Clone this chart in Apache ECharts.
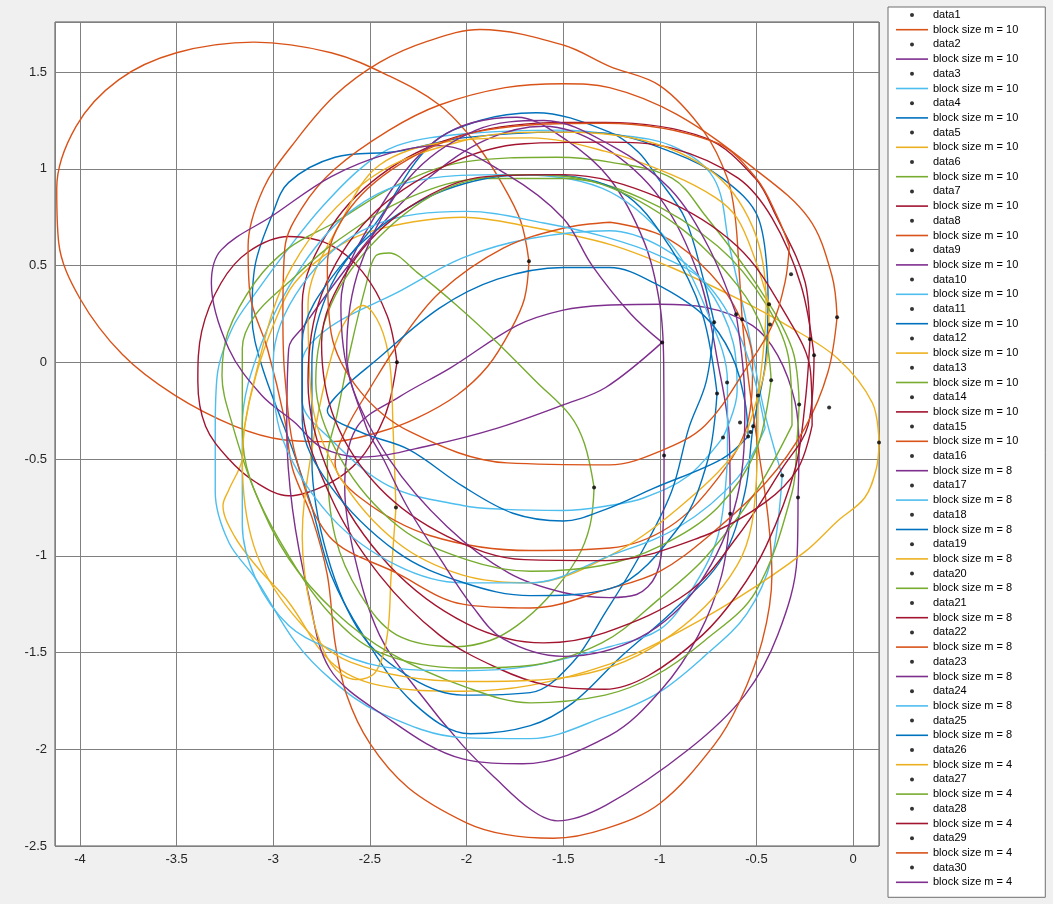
<!DOCTYPE html>
<html>
<head>
<meta charset="utf-8">
<script src="https://cdn.jsdelivr.net/npm/echarts@6/dist/echarts.min.js"></script>
<style>
  html, body { margin: 0; padding: 0; background: #f0f0f0; }
  #chart { width: 1053px; height: 904px; }
</style>
</head>
<body>
<div id="chart"></div>
<script>
// block size used for each of the 30 runs
var blockSize = [10, 10, 10, 10, 10, 10, 10, 10, 10, 10, 10, 10, 10, 10, 10,
                 8, 8, 8, 8, 8, 8, 8, 8, 8, 8, 4, 4, 4, 4, 4];

// the single black point of each run (data1 .. data30)
var dotX = [-1.677, -0.285, -0.367, -0.435, 0.134, -1.34, -2.36, -0.574, -0.636, -0.673,
            -0.719, -2.365, -0.279, -0.223, -0.517, -0.978, -0.652, -0.543, -0.321, -0.124,
            -0.202, -0.083, -0.988, -0.43, -0.704, -0.492, -0.424, -0.585, -0.605, -0.53];
var dotY = [0.522, -0.699, -0.585, 0.30, -0.414, -0.647, 0.0, 0.222, -0.783, -0.388,
            0.207, -0.75, -0.218, 0.119, -0.331, -0.481, -0.104, -0.383, 0.455, -0.233,
            0.036, 0.233, 0.103, 0.196, -0.161, -0.171, -0.093, -0.311, 0.248, -0.36];

// closed curves, one per run (x, y)
var c01 = [[-1.677,0.522],[-1.70,0.33],[-1.77,0.17],[-1.89,-0.02],[-2.05,-0.17],[-2.26,-0.29],[-2.45,-0.36],[-2.70,-0.41],[-2.95,-0.40],[-3.20,-0.33],[-3.51,-0.17],[-3.78,0.04],[-4.00,0.33],[-4.11,0.62],[-4.12,0.90],[-4.02,1.22],[-3.80,1.46],[-3.50,1.60],[-3.10,1.655],[-2.70,1.60],[-2.40,1.48],[-2.14,1.33],[-1.95,1.13],[-1.82,0.93],[-1.72,0.73]];
var c02 = [[-0.285,-0.699],[-0.29,-1.01],[-0.39,-1.41],[-0.56,-1.72],[-0.85,-2.00],[-1.28,-2.29],[-1.53,-2.37],[-1.67,-2.31],[-1.85,-2.15],[-2.02,-1.98],[-2.25,-1.70],[-2.45,-1.41],[-2.58,-1.00],[-2.63,-0.65],[-2.57,-0.34],[-2.35,-0.18],[-2.085,-0.03],[-1.74,0.19],[-1.50,0.27],[-1.28,0.295],[-1.00,0.30],[-0.77,0.285],[-0.52,0.19],[-0.39,0.036],[-0.30,-0.207],[-0.28,-0.45]];
var c03 = [[-0.367,-0.585],[-0.42,-1.01],[-0.55,-1.30],[-0.77,-1.52],[-1.01,-1.71],[-1.28,-1.83],[-1.67,-1.945],[-2.02,-1.94],[-2.45,-1.81],[-2.70,-1.64],[-2.89,-1.44],[-3.09,-1.12],[-3.23,-0.93],[-3.30,-0.67],[-3.30,-0.35],[-3.29,-0.07],[-3.21,0.18],[-3.09,0.36],[-2.92,0.59],[-2.75,0.80],[-2.55,1.00],[-2.36,1.12],[-2.02,1.18],[-1.50,1.20],[-1.26,1.18],[-0.94,1.12],[-0.72,0.95],[-0.64,0.60],[-0.55,0.20],[-0.46,-0.25]];
var c04 = [[-0.44,0.33],[-0.455,-0.015],[-0.517,-0.33],[-0.56,-0.673],[-0.678,-1.014],[-0.937,-1.29],[-1.20,-1.52],[-1.45,-1.76],[-1.67,-1.878],[-1.98,-1.92],[-2.277,-1.759],[-2.535,-1.41],[-2.70,-1.10],[-2.80,-0.75],[-2.90,-0.45],[-3.06,-0.015],[-3.11,0.24],[-3.094,0.50],[-3.006,0.76],[-2.92,0.93],[-2.68,1.06],[-2.36,1.09],[-2.02,1.16],[-1.50,1.19],[-1.283,1.184],[-0.937,1.086],[-0.678,0.952],[-0.49,0.745]];
var c05 = [[0.134,-0.414],[0.12,-0.55],[0.06,-0.70],[-0.08,-0.82],[-0.25,-0.98],[-0.60,-1.22],[-0.99,-1.44],[-1.26,-1.56],[-1.67,-1.67],[-2.02,-1.70],[-2.45,-1.67],[-2.70,-1.55],[-2.92,-1.24],[-3.09,-1.05],[-3.20,-0.90],[-3.26,-0.74],[-3.23,-0.66],[-3.16,-0.50],[-3.15,-0.34],[-3.09,-0.07],[-3.00,0.19],[-2.89,0.41],[-2.68,0.59],[-2.45,0.69],[-2.02,0.75],[-1.67,0.70],[-1.26,0.61],[-0.94,0.49],[-0.60,0.33],[-0.34,0.19],[-0.08,0.02],[0.10,-0.21]];
var c06 = [[-1.34,-0.647],[-1.361,-0.843],[-1.428,-1.014],[-1.583,-1.221],[-1.739,-1.361],[-1.878,-1.438],[-2.05,-1.47],[-2.36,-1.41],[-2.55,-1.20],[-2.68,-0.90],[-2.72,-0.50],[-2.67,-0.27],[-2.60,0.07],[-2.52,0.40],[-2.47,0.55],[-2.40,0.565],[-2.256,0.465],[-2.05,0.294],[-1.842,0.103],[-1.635,-0.104],[-1.464,-0.274],[-1.39,-0.42]];
var c07 = [[-2.36,0.0],[-2.40,-0.21],[-2.45,-0.34],[-2.55,-0.50],[-2.70,-0.62],[-2.92,-0.69],[-3.09,-0.62],[-3.23,-0.50],[-3.35,-0.33],[-3.39,-0.10],[-3.37,0.16],[-3.27,0.41],[-3.13,0.57],[-2.92,0.65],[-2.71,0.61],[-2.54,0.47],[-2.41,0.24]];
var c08 = [[-0.574,0.222],[-0.54,-0.10],[-0.49,-0.45],[-0.44,-0.80],[-0.42,-1.10],[-0.47,-1.44],[-0.59,-1.76],[-0.72,-1.98],[-1.00,-2.28],[-1.28,-2.41],[-1.55,-2.46],[-1.80,-2.44],[-2.00,-2.38],[-2.30,-2.20],[-2.50,-1.97],[-2.62,-1.72],[-2.68,-1.45],[-2.72,-1.10],[-2.80,-0.80],[-2.90,-0.55],[-2.94,-0.30],[-3.03,0.07],[-3.12,0.35],[-3.13,0.60],[-3.05,0.90],[-2.88,1.15],[-2.68,1.38],[-2.45,1.55],[-2.20,1.66],[-1.93,1.72],[-1.50,1.64],[-1.26,1.53],[-1.00,1.43],[-0.77,1.19],[-0.65,0.95],[-0.61,0.75],[-0.59,0.48]];
var c09 = [[-0.636,-0.783],[-0.68,-1.10],[-0.80,-1.41],[-0.99,-1.69],[-1.26,-1.93],[-1.71,-2.075],[-2.02,-2.05],[-2.45,-1.81],[-2.71,-1.58],[-2.82,-1.19],[-2.90,-0.76],[-2.93,-0.35],[-2.92,0.07],[-2.84,0.19],[-2.68,0.41],[-2.45,0.70],[-2.20,0.95],[-1.90,1.15],[-1.60,1.22],[-1.30,1.12],[-1.00,0.85],[-0.80,0.45],[-0.70,0.0],[-0.64,-0.40]];
var c10 = [[-0.673,-0.388],[-0.85,-0.585],[-1.08,-0.70],[-1.26,-0.74],[-1.50,-0.766],[-1.80,-0.76],[-2.02,-0.74],[-2.40,-0.64],[-2.70,-0.40],[-2.85,-0.20],[-2.85,0.00],[-2.71,0.18],[-2.36,0.36],[-2.02,0.54],[-1.67,0.64],[-1.26,0.68],[-1.00,0.60],[-0.77,0.41],[-0.62,0.10],[-0.60,-0.15]];
var c11 = [[-0.719,0.207],[-0.76,-0.10],[-0.85,-0.34],[-0.94,-0.67],[-1.11,-1.01],[-1.28,-1.29],[-1.45,-1.55],[-1.67,-1.707],[-2.02,-1.72],[-2.28,-1.635],[-2.54,-1.41],[-2.72,-1.00],[-2.80,-0.50],[-2.80,0.00],[-2.70,0.40],[-2.45,0.745],[-2.19,1.12],[-1.93,1.25],[-1.64,1.29],[-1.26,1.19],[-1.11,1.086],[-1.01,0.952],[-0.87,0.745],[-0.77,0.414]];
var c12 = [[-2.365,-0.75],[-2.39,-1.10],[-2.41,-1.41],[-2.47,-1.60],[-2.57,-1.64],[-2.70,-1.56],[-2.80,-1.30],[-2.85,-0.90],[-2.80,-0.45],[-2.72,-0.05],[-2.64,0.19],[-2.535,0.294],[-2.447,0.19],[-2.396,-0.015],[-2.38,-0.342]];
var c13 = [[-0.279,-0.218],[-0.29,-0.40],[-0.316,-0.673],[-0.507,-1.19],[-0.77,-1.44],[-1.025,-1.62],[-1.283,-1.72],[-1.67,-1.76],[-2.00,-1.68],[-2.40,-1.50],[-2.68,-1.29],[-2.92,-1.014],[-3.094,-0.67],[-3.21,-0.326],[-3.265,-0.07],[-3.234,0.155],[-3.094,0.414],[-2.92,0.59],[-2.68,0.724],[-2.36,0.916],[-2.018,1.035],[-1.532,1.06],[-1.257,1.035],[-0.937,0.952],[-0.766,0.76],[-0.507,0.414],[-0.316,0.072]];
var c14 = [[-0.223,0.119],[-0.248,-0.207],[-0.30,-0.55],[-0.45,-0.95],[-0.60,-1.20],[-0.78,-1.41],[-1.06,-1.62],[-1.283,-1.69],[-1.58,-1.67],[-1.84,-1.58],[-2.14,-1.41],[-2.45,-1.10],[-2.70,-0.70],[-2.85,-0.20],[-2.85,0.30],[-2.70,0.70],[-2.40,1.00],[-2.00,1.18],[-1.50,1.24],[-1.283,1.24],[-0.766,1.16],[-0.507,0.952],[-0.40,0.76],[-0.248,0.414]];
var c15 = [[-1.257,0.724],[-1.50,0.693],[-1.81,0.59],[-2.14,0.36],[-2.35,0.10],[-2.50,-0.135],[-2.62,-0.34],[-2.68,-0.52],[-2.55,-0.70],[-2.19,-0.895],[-1.67,-0.973],[-1.257,-0.96],[-0.95,-0.85],[-0.70,-0.60],[-0.55,-0.33],[-0.52,0.0],[-0.62,0.30],[-0.80,0.52],[-1.00,0.66]];
var c16 = [[-0.978,-0.481],[-0.985,-0.90],[-1.02,-1.10],[-1.12,-1.20],[-1.26,-1.216],[-1.50,-1.19],[-1.78,-1.09],[-2.10,-0.85],[-2.40,-0.50],[-2.60,-0.10],[-2.65,0.30],[-2.48,0.745],[-2.14,1.16],[-1.74,1.267],[-1.50,1.16],[-1.26,0.95],[-1.08,0.62],[-1.00,0.30],[-0.98,0.0]];
var c17 = [[-0.65,-0.50],[-0.70,-0.90],[-0.85,-1.20],[-1.00,-1.38],[-1.26,-1.47],[-1.67,-1.57],[-2.02,-1.594],[-2.45,-1.57],[-2.71,-1.48],[-2.92,-1.36],[-3.09,-1.12],[-3.16,-0.84],[-3.16,-0.33],[-3.06,0.10],[-2.85,0.50],[-2.60,0.78],[-2.30,0.93],[-1.80,0.97],[-1.30,0.90],[-0.95,0.62],[-0.75,0.25],[-0.65,-0.10]];
var c18 = [[-0.543,-0.383],[-0.68,-0.50],[-1.03,-0.65],[-1.28,-0.76],[-1.50,-0.82],[-1.76,-0.78],[-2.02,-0.64],[-2.30,-0.45],[-2.55,-0.36],[-2.72,-0.25],[-2.62,-0.12],[-2.48,0.00],[-2.14,0.28],[-1.84,0.43],[-1.50,0.49],[-1.26,0.49],[-1.03,0.41],[-0.77,0.24],[-0.63,0.04],[-0.56,-0.20]];
var c19 = [[-0.435,0.30],[-0.44,0.07],[-0.50,-0.20],[-0.60,-0.45],[-0.90,-0.75],[-1.26,-1.00],[-1.67,-1.14],[-2.02,-1.10],[-2.36,-0.93],[-2.65,-0.60],[-2.80,-0.20],[-2.82,0.30],[-2.64,0.745],[-2.45,1.02],[-2.10,1.14],[-1.67,1.16],[-1.28,1.09],[-0.94,0.97],[-0.71,0.85],[-0.60,0.745],[-0.51,0.54]];
var c20 = [[-0.316,-0.326],[-0.507,-0.673],[-0.766,-1.01],[-1.00,-1.22],[-1.30,-1.45],[-1.70,-1.57],[-2.018,-1.58],[-2.448,-1.50],[-2.706,-1.30],[-2.95,-0.95],[-3.12,-0.60],[-3.16,-0.342],[-3.16,0.072],[-3.094,0.243],[-2.92,0.414],[-2.68,0.62],[-2.30,0.85],[-1.90,0.95],[-1.50,0.95],[-1.10,0.85],[-0.70,0.60],[-0.45,0.30],[-0.33,0.00]];
var c21 = [[-0.202,0.036],[-0.233,-0.326],[-0.367,-0.548],[-0.595,-0.895],[-0.854,-1.19],[-1.283,-1.397],[-1.60,-1.45],[-2.00,-1.35],[-2.40,-1.05],[-2.70,-0.60],[-2.82,-0.10],[-2.75,0.35],[-2.50,0.75],[-2.10,1.02],[-1.70,1.13],[-1.283,1.138],[-0.937,1.107],[-0.595,0.952],[-0.419,0.745],[-0.27,0.40]];
var c22 = [[-0.083,0.233],[-0.13,-0.05],[-0.25,-0.34],[-0.45,-0.62],[-0.75,-0.90],[-1.00,-1.08],[-1.26,-1.17],[-1.67,-1.27],[-2.02,-1.25],[-2.36,-1.09],[-2.71,-0.90],[-2.88,-0.50],[-2.94,-0.07],[-2.95,0.24],[-2.94,0.59],[-2.85,0.80],[-2.68,1.00],[-2.40,1.20],[-2.14,1.33],[-1.80,1.42],[-1.50,1.44],[-1.26,1.42],[-0.91,1.28],[-0.51,1.00],[-0.23,0.745],[-0.11,0.45]];
var c23 = [[-0.988,0.103],[-1.28,-0.13],[-1.50,-0.22],[-1.84,-0.34],[-2.19,-0.43],[-2.54,-0.49],[-2.75,-0.44],[-2.89,-0.31],[-3.06,-0.17],[-3.23,0.07],[-3.32,0.41],[-3.27,0.58],[-3.00,0.76],[-2.70,0.96],[-2.40,1.08],[-2.14,1.12],[-1.79,0.97],[-1.50,0.745],[-1.35,0.50],[-1.15,0.25]];
var c24 = [[-0.455,-0.34],[-0.60,-0.60],[-0.90,-0.85],[-1.26,-1.00],[-1.67,-1.14],[-2.02,-1.14],[-2.36,-1.05],[-2.70,-0.80],[-2.95,-0.40],[-3.00,0.00],[-2.85,0.40],[-2.50,0.70],[-2.00,0.78],[-1.60,0.72],[-1.283,0.648],[-1.00,0.55],[-0.766,0.414],[-0.595,0.155],[-0.507,-0.10]];
var c25 = [[-0.704,-0.161],[-0.75,-0.50],[-0.90,-0.85],[-1.257,-1.17],[-1.67,-1.206],[-2.018,-1.138],[-2.36,-0.98],[-2.706,-0.637],[-2.85,-0.30],[-2.85,0.10],[-2.65,0.50],[-2.30,0.80],[-1.90,0.95],[-1.60,0.97],[-1.20,0.88],[-0.95,0.60],[-0.78,0.25]];
var c26 = [[-0.492,-0.171],[-0.50,-0.60],[-0.60,-1.05],[-1.00,-1.45],[-1.50,-1.63],[-2.00,-1.65],[-2.60,-1.55],[-2.90,-1.30],[-3.10,-0.95],[-3.16,-0.50],[-3.10,-0.10],[-2.90,0.50],[-2.50,0.95],[-2.00,1.15],[-1.60,1.19],[-1.20,1.17],[-0.75,1.00],[-0.52,0.70],[-0.45,0.30]];
var c27 = [[-0.424,-0.093],[-0.50,-0.45],[-0.70,-0.75],[-1.00,-0.95],[-1.30,-1.05],[-1.67,-1.08],[-2.00,-1.02],[-2.35,-0.85],[-2.65,-0.50],[-2.78,-0.10],[-2.70,0.30],[-2.45,0.65],[-2.10,0.90],[-1.70,0.97],[-1.30,0.92],[-0.90,0.70],[-0.60,0.40],[-0.46,0.15]];
var c28 = [[-0.212,-0.326],[-0.285,-0.548],[-0.455,-0.724],[-0.766,-0.895],[-1.283,-1.025],[-1.70,-1.02],[-2.10,-0.90],[-2.45,-0.65],[-2.68,-0.30],[-2.75,0.10],[-2.60,0.50],[-2.30,0.80],[-1.90,0.96],[-1.50,0.97],[-1.00,0.85],[-0.60,0.60],[-0.35,0.25],[-0.22,-0.05]];
var c29 = [[-0.33,0.60],[-0.352,0.414],[-0.419,0.19],[-0.543,-0.016],[-0.766,-0.326],[-1.00,-0.46],[-1.26,-0.53],[-1.79,-0.52],[-2.29,-0.36],[-2.55,-0.15],[-2.70,0.15],[-2.72,0.50],[-2.60,0.80],[-2.30,1.05],[-1.90,1.20],[-1.283,1.236],[-0.714,1.138],[-0.50,0.95],[-0.388,0.745]];
var c30 = [[-0.605,0.248],[-0.56,-0.20],[-0.60,-0.70],[-0.80,-1.15],[-1.10,-1.42],[-1.50,-1.52],[-1.81,-1.43],[-1.97,-1.26],[-2.14,-1.01],[-2.31,-0.74],[-2.43,-0.50],[-2.52,-0.33],[-2.62,0.05],[-2.55,0.50],[-2.30,0.95],[-1.95,1.20],[-1.60,1.25],[-1.25,1.12],[-0.95,0.90],[-0.75,0.60]];

var curves = [c01, c02, c03, c04, c05, c06, c07, c08, c09, c10, c11, c12, c13, c14, c15,
              c16, c17, c18, c19, c20, c21, c22, c23, c24, c25, c26, c27, c28, c29, c30];

// MATLAB default colour order; the black dots use up a colour slot too
var colorOrder = ['#0072BD', '#D95319', '#EDB120', '#7E2F8E', '#77AC30', '#4DBEEE', '#A2142F'];

var chart = echarts.init(document.getElementById('chart'));

var series = [];
var legendItems = [];
for (var i = 0; i < 30; i++) {
    var dotName = 'data' + (i + 1);
    // legend drops repeated names, so pad with zero-width spaces to keep them unique
    var lineName = 'block size m = ' + blockSize[i] + '\u200b'.repeat(i + 1);
    var col = colorOrder[(2 * i + 1) % 7];
    legendItems.push({ name: dotName });
    legendItems.push({ name: lineName, icon: 'path://M0,0L32,0L32,1.6L0,1.6Z' });
    series.push({
        name: dotName,
        type: 'scatter',
        data: [[dotX[i], dotY[i]]],
        symbol: 'circle',
        symbolSize: 4,
        itemStyle: { color: '#000' },
        z: 2
    });
    series.push({
        name: lineName,
        type: 'line',
        data: curves[i].concat([curves[i][0]]),
        smooth: 0.35,
        symbol: 'none',
        lineStyle: { width: 1.4, color: col },
        itemStyle: { color: col },
        z: 2
    });
}

var option = {
    animation: false,
    backgroundColor: '#f0f0f0',
    textStyle: { fontFamily: 'Liberation Sans, Arial, sans-serif' },
    grid: {
        left: 55, top: 22, width: 824, height: 824,
        show: true, backgroundColor: '#ffffff',
        borderColor: '#555555', borderWidth: 1
    },
    xAxis: {
        type: 'value',
        min: -4.129, max: 0.134, splitNumber: 9,
        axisLine: { show: false },
        axisTick: { show: false },
        axisLabel: { showMinLabel: false, showMaxLabel: false, fontSize: 13, color: '#262626', margin: 7 },
        splitLine: { show: true, lineStyle: { color: '#808080', width: 1 } }
    },
    yAxis: {
        type: 'value',
        min: -2.5, max: 1.759, splitNumber: 9,
        axisLine: { show: false },
        axisTick: { show: false },
        axisLabel: { showMaxLabel: false, fontSize: 13, color: '#262626', margin: 8 },
        splitLine: { show: true, lineStyle: { color: '#808080', width: 1 } }
    },
    legend: {
        orient: 'vertical',
        left: 888, top: 7,
        data: legendItems,
        itemWidth: 32, itemHeight: 4, itemGap: 3.7,
        padding: [2.5, 27, 9.5, 8],
        backgroundColor: '#ffffff',
        borderColor: '#6e6e6e', borderWidth: 1,
        textStyle: { fontSize: 11, color: '#000' }
    },
    series: series
};
chart.setOption(option);
</script>
</body>
</html>
